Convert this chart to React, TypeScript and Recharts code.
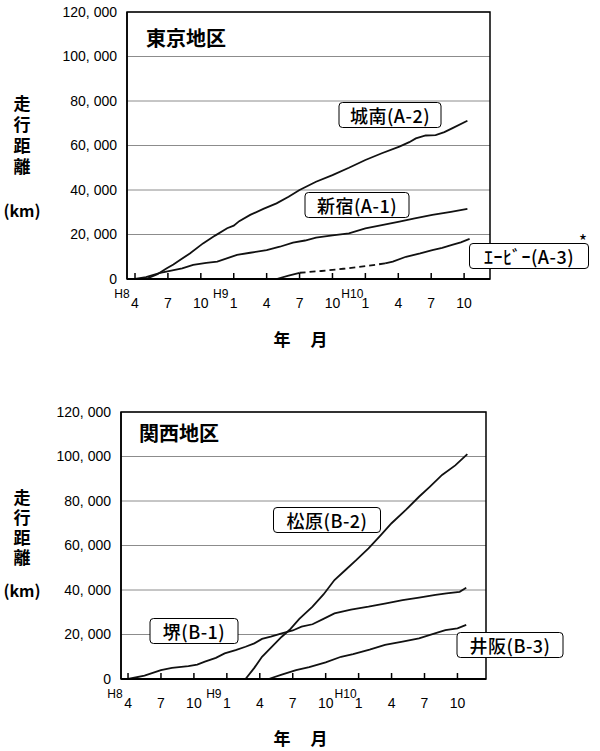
import React from 'react';
import { LineChart, Line, XAxis, YAxis, CartesianGrid, ReferenceArea } from 'recharts';

// month index 0 = H8年4月
const monthTicks = [0, 3, 6, 9, 12, 15, 18, 21, 24, 27, 30];
const monthLabels = ['4', '7', '10', '1', '4', '7', '10', '1', '4', '7', '10'];
const eraLabels: Record<number, string> = { 0: 'H8', 9: 'H9', 21: 'H10' };
const kmTicks = [0, 20000, 40000, 60000, 80000, 100000, 120000];

// 東京地区
const shinjukuMonth = [0, 1, 2.3, 3.3, 4.3, 5.3, 6.5, 7.5, 8.5, 9.3, 10.5, 12, 13.2, 14.4, 15.5, 16.5, 18, 19.5, 21, 22.5, 24.1, 25.5, 27.1, 28.8, 30.3];
const shinjukuKm = [0, 800, 2800, 3800, 4800, 6300, 7200, 7800, 9500, 10800, 11800, 13000, 14500, 16300, 17300, 18600, 19600, 20500, 22800, 24200, 25800, 27200, 28800, 30200, 31500];

const jonanMonth = [1, 2, 2.9, 3.5, 4.1, 5, 6.2, 7.3, 8.4, 9, 9.5, 10.5, 11.7, 12.9, 14, 15, 16.5, 18, 19.5, 21, 22.5, 24.1, 25, 25.6, 26.5, 27.4, 28.2, 28.9, 30.3];
const jonanKm = [0, 2000, 4800, 6500, 8500, 11500, 16000, 19500, 22800, 24000, 26000, 28800, 31500, 34000, 37000, 40000, 43700, 46700, 50000, 53500, 56500, 59500, 61500, 63200, 64500, 64700, 66000, 67700, 71100];

const abMonth1 = [12.9, 14, 15];
const abKm1 = [0, 1500, 2800];
const abDashMonth = [15, 17, 19, 21, 22.8];
const abDashKm = [2800, 3600, 4600, 5800, 7000];
const abMonth2 = [22.8, 23.5, 24.7, 26, 27.1, 28, 28.9, 29.7, 30.5];
const abKm2 = [7000, 7800, 10000, 11500, 13000, 14000, 15300, 16500, 18000];

// 関西地区
const sakaiMonth = [0, 1.5, 3, 4, 5.5, 6.3, 7, 8, 8.8, 9.8, 10.7, 11.5, 12.2, 13, 14, 15, 15.8, 16.8, 17.8, 18.8, 20.3, 21.9, 23.5, 25, 26.5, 28, 29, 30.2, 30.8];
const sakaiKm = [0, 1500, 4000, 5000, 5800, 6500, 7800, 9500, 11500, 13000, 14500, 16000, 18000, 19000, 20500, 21800, 23500, 24600, 27000, 29500, 31200, 32500, 34000, 35500, 36600, 37800, 38500, 39200, 41000];

const matsubaraMonth = [10.7, 11.5, 12.2, 13, 14, 14.7, 15.6, 16.8, 17.8, 18.8, 19.8, 20.8, 21.9, 23, 24, 25.3, 26.5, 27.5, 28.6, 29.8, 30.9];
const matsubaraKm = [0, 5000, 10000, 14000, 19000, 22000, 27000, 32500, 38000, 44500, 49000, 53500, 58700, 64500, 70000, 76000, 81900, 86500, 91700, 96000, 101100];

const isakaMonth = [12.8, 14, 15.3, 16.5, 18, 19.4, 20.5, 22, 23.4, 25, 26.5, 27.8, 28.9, 30, 30.8];
const isakaKm = [0, 2000, 4000, 5300, 7500, 10000, 11200, 13200, 15300, 16800, 18300, 20300, 22000, 22800, 24300];

const toPoints = (m: number[], v: number[]) => m.map((x, i) => ({ m: x, km: v[i] }));

const numFont = '"Liberation Sans", Arial, sans-serif';
const jpFont = '"Noto Sans CJK JP", sans-serif';

function MonthTick(props: any) {
  const { x, y, payload } = props;
  const i = monthTicks.indexOf(payload.value);
  const era = eraLabels[payload.value];
  return (
    <g>
      <line x1={x} y1={y} x2={x} y2={y - 6} stroke="#000" strokeWidth={1.5} />
      <text x={x} y={y + 29} textAnchor="middle" fontSize={14} fontFamily={numFont} fill="#000">
        {monthLabels[i]}
      </text>
      {era && (
        <text x={x - 13} y={y + 19} textAnchor="middle" fontSize={12} fontFamily={numFont} fill="#000">
          {era}
        </text>
      )}
    </g>
  );
}

const kmFormat = (v: number) => (v === 0 ? '0' : `${v / 1000}, 000`);

type Series = { data: { m: number; km: number }[]; dashed?: boolean };

function Panel({ top, marginLeft, marginRight, domain, series }: { top: number; marginLeft: number; marginRight: number; domain: [number, number]; series: Series[] }) {
  return (
    <div style={{ position: 'absolute', left: 0, top }}>
      <LineChart width={600} height={350} margin={{ top: 12, right: marginRight, bottom: 41, left: marginLeft }}>
        <CartesianGrid horizontal vertical={false} stroke="#8c8c8c" />
        <XAxis
          type="number"
          dataKey="m"
          domain={domain}
          ticks={monthTicks}
          allowDataOverflow
          height={30}
          tickSize={0}
          tickMargin={0}
          tickLine={false}
          axisLine={{ stroke: '#000', strokeWidth: 2 }}
          tick={<MonthTick />}
        />
        <YAxis
          type="number"
          domain={[0, 120000]}
          ticks={kmTicks}
          width={60}
          tickSize={0}
          tickMargin={10}
          tickLine={false}
          axisLine={{ stroke: '#000', strokeWidth: 1.5 }}
          tickFormatter={kmFormat}
          tick={{ fontSize: 14, fontFamily: numFont, fill: '#000' }}
        />
        <ReferenceArea x1={domain[0]} x2={domain[1]} y1={0} y2={120000} fill="none" stroke="#000" strokeWidth={1.5} />
        {series.map((s, i) => (
          <Line
            key={i}
            data={s.data}
            dataKey="km"
            type="linear"
            stroke="#111"
            strokeWidth={1.8}
            strokeDasharray={s.dashed ? '6 4' : undefined}
            dot={false}
            isAnimationActive={false}
          />
        ))}
      </LineChart>
    </div>
  );
}

function At({ x, y, size, bold, children, style }: { x: number; y: number; size: number; bold?: boolean; children: React.ReactNode; style?: React.CSSProperties }) {
  return (
    <div
      style={{
        position: 'absolute',
        left: x,
        top: y,
        transform: 'translate(-50%, -50%)',
        fontSize: size,
        fontWeight: bold ? 700 : 400,
        fontFamily: jpFont,
        whiteSpace: 'nowrap',
        lineHeight: 1,
        color: '#000',
        ...style,
      }}
    >
      {children}
    </div>
  );
}

function Box({ x, y, w, text }: { x: number; y: number; w: number; text: string }) {
  return (
    <At
      x={x}
      y={y}
      size={18}
      style={{
        width: w,
        height: 26,
        lineHeight: '24px',
        textAlign: 'center',
        letterSpacing: 0.5,
        border: '1.5px solid #000',
        borderRadius: 4,
        background: '#fff',
        boxSizing: 'border-box',
        fontWeight: 500,
      }}
    >
      {text}
    </At>
  );
}

function AxisTitles({ yMid, spacing, yTitle, xTitleY }: { yMid: number; spacing: number; yTitle: number; xTitleY: number }) {
  return (
    <>
      <At x={22} y={yMid} size={17} bold style={{ writingMode: 'vertical-rl', letterSpacing: spacing }}>
        走行距離
      </At>
      <At x={22} y={yTitle} size={16} bold>(km)</At>
      <At x={282} y={xTitleY} size={17} bold>年</At>
      <At x={319} y={xTitleY} size={17} bold>月</At>
    </>
  );
}

export default function App() {
  return (
    <div style={{ position: 'absolute', left: 0, top: 0, width: 600, height: 751, background: '#fff' }}>
      <Panel
        top={0}
        marginLeft={67}
        marginRight={110}
        domain={[-0.73, 32.36]}
        series={[
          { data: toPoints(shinjukuMonth, shinjukuKm) },
          { data: toPoints(jonanMonth, jonanKm) },
          { data: toPoints(abMonth1, abKm1) },
          { data: toPoints(abDashMonth, abDashKm), dashed: true },
          { data: toPoints(abMonth2, abKm2) },
        ]}
      />
      <Panel
        top={400}
        marginLeft={61}
        marginRight={114}
        domain={[-0.64, 32.6]}
        series={[
          { data: toPoints(sakaiMonth, sakaiKm) },
          { data: toPoints(matsubaraMonth, matsubaraKm) },
          { data: toPoints(isakaMonth, isakaKm) },
        ]}
      />

      <At x={186} y={38} size={20} bold>東京地区</At>
      <AxisTitles yMid={137} spacing={4} yTitle={210} xTitleY={338} />
      <Box x={390} y={115} w={103} text="城南(A-2)" />
      <Box x={357} y={205} w={105} text="新宿(A-1)" />
      <Box x={529} y={256} w={120} text="ｴｰﾋﾞｰ(A-3)" />
      <At x={583} y={240} size={18}>*</At>

      <At x={179} y={433} size={20} bold>関西地区</At>
      <AxisTitles yMid={529} spacing={3} yTitle={590} xTitleY={737} />
      <Box x={327} y={520} w={108} text="松原(B-2)" />
      <Box x={194} y={631} w={89} text="堺(B-1)" />
      <Box x={510} y={645} w={107} text="井阪(B-3)" />
    </div>
  );
}
